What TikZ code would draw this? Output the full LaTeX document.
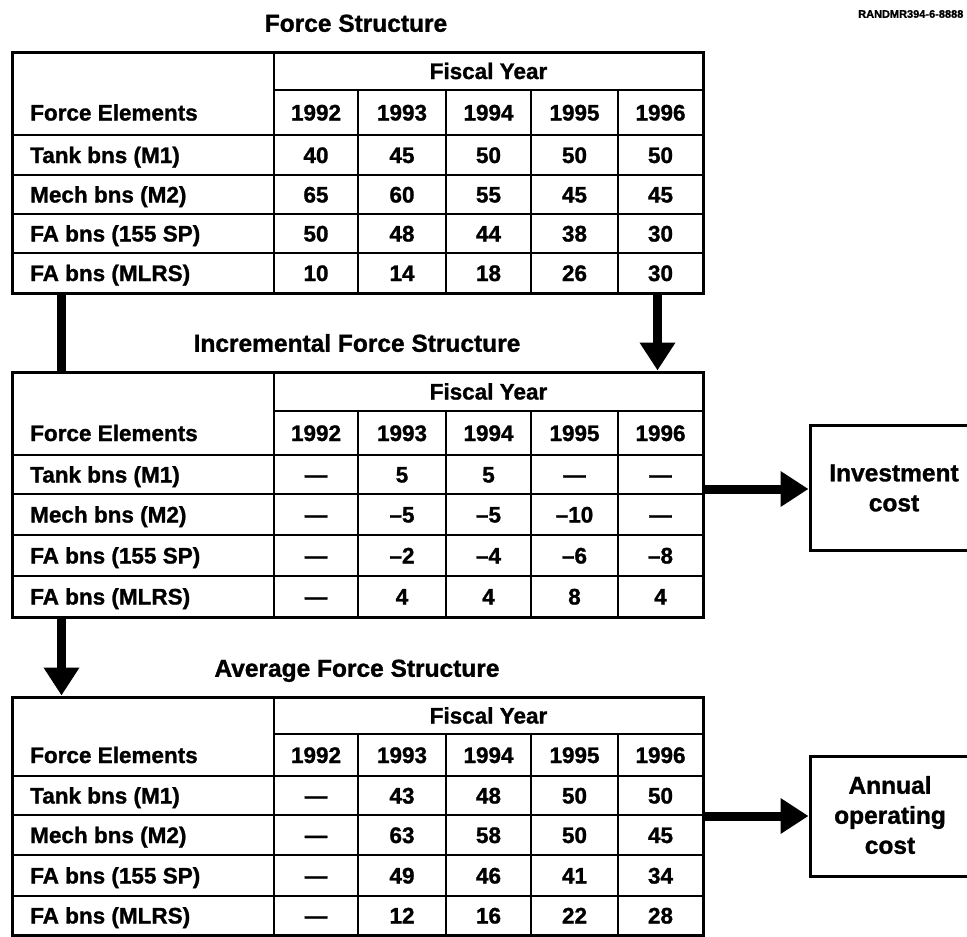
\documentclass[tikz,border=0pt]{standalone}
\usepackage{fontspec}
\setmainfont{Liberation Sans}[BoldFeatures={FakeBold=1.2}]
\usetikzlibrary{arrows.meta}

% one data row: name prefix, centre y, label, five yearly values
\newcommand\datarow[8]{%
  \node[rowlabel] (#1-name) at (30,#2) {#3};
  \node[cell] (#1-a) at (316,#2) {#4};
  \node[cell] (#1-b) at (402,#2) {#5};
  \node[cell] (#1-c) at (488.5,#2) {#6};
  \node[cell] (#1-d) at (574.5,#2) {#7};
  \node[cell] (#1-e) at (660.5,#2) {#8};
}

% grid of one table: name, then the y of its seven horizontal rules
\newcommand\forcetable[8]{%
  \node[frame, minimum width=691pt, minimum height=#8pt-#2pt] (#1) at (357.5,{(#2+#8)/2}) {};
  \draw[grid] (274,#3) -- (703,#3);
  \foreach \yy in {#4,#5,#6,#7} \draw[grid] (12,\yy) -- (703,\yy);
  \draw[grid] (274,#2) -- (274,#8);
  \foreach \xx in {358,446,531,618} \draw[grid] (\xx,#3) -- (\xx,#8);
  \node[cell] (#1-fy) at (488.5,{(#2+#3)/2}) {Fiscal Year};
  \node[rowlabel] (#1-fe) at (30,{(#3+#4)/2}) {Force Elements};
  \node[cell] (#1-y2) at (316,{(#3+#4)/2}) {1992};
  \node[cell] (#1-y3) at (402,{(#3+#4)/2}) {1993};
  \node[cell] (#1-y4) at (488.5,{(#3+#4)/2}) {1994};
  \node[cell] (#1-y5) at (574.5,{(#3+#4)/2}) {1995};
  \node[cell] (#1-y6) at (660.5,{(#3+#4)/2}) {1996};
}

\begin{document}
\begin{tikzpicture}[x=1pt,y=-1pt,
  cell/.style={font=\fontsize{22.5}{26}\selectfont\bfseries, inner sep=0pt,
    text height=16pt, text depth=0pt, anchor=center},
  rowlabel/.style={cell, anchor=west},
  title/.style={font=\fontsize{24.5}{28}\selectfont\bfseries, inner sep=0pt,
    text height=17.5pt, text depth=0pt},
  boxtext/.style={font=\fontsize{24.5}{30}\selectfont\bfseries, align=center},
  frame/.style={draw, line width=3pt, inner sep=0pt},
  grid/.style={line width=2.2pt},
  costbox/.style={draw, line width=3pt, inner sep=0pt},
  flow/.style={line width=9pt},
  flowhead/.style={flow, -{Triangle[length=28pt,width=34pt]}},
]
\useasboundingbox (0,0) rectangle (967,937);

% drawing number
\node[font=\fontsize{11}{13}\selectfont\bfseries, anchor=west, inner sep=0pt] (tag) at (858,14) {RANDMR394-6-8888};

% ---- Force Structure ----
\node[title] (title1) at (356,23) {Force Structure};
\forcetable{tab1}{52}{90}{135}{175}{214}{253}{293}
\datarow{t1r1}{155}{Tank bns (M1)}{40}{45}{50}{50}{50}
\datarow{t1r2}{194.5}{Mech bns (M2)}{65}{60}{55}{45}{45}
\datarow{t1r3}{233.5}{FA bns (155 SP)}{50}{48}{44}{38}{30}
\datarow{t1r4}{273}{FA bns (MLRS)}{10}{14}{18}{26}{30}

% ---- Incremental Force Structure ----
\node[title] (title2) at (357,343) {Incremental Force Structure};
\forcetable{tab2}{372}{411}{455}{494}{535}{576}{617}
\datarow{t2r1}{474.5}{Tank bns (M1)}{—}{5}{5}{—}{—}
\datarow{t2r2}{514.5}{Mech bns (M2)}{—}{–5}{–5}{–10}{—}
\datarow{t2r3}{555.5}{FA bns (155 SP)}{—}{–2}{–4}{–6}{–8}
\datarow{t2r4}{596.5}{FA bns (MLRS)}{—}{4}{4}{8}{4}

% ---- Average Force Structure ----
\node[title] (title3) at (357,668) {Average Force Structure};
\forcetable{tab3}{697}{734}{776}{815}{855}{896}{935}
\datarow{t3r1}{795.5}{Tank bns (M1)}{—}{43}{48}{50}{50}
\datarow{t3r2}{835}{Mech bns (M2)}{—}{63}{58}{50}{45}
\datarow{t3r3}{875.5}{FA bns (155 SP)}{—}{49}{46}{41}{34}
\datarow{t3r4}{915.5}{FA bns (MLRS)}{—}{12}{16}{22}{28}

% ---- cost boxes ----
\node[costbox, minimum width=170pt, minimum height=125pt] (inv) at (895,487.5) {};
\node[boxtext] (invtext) at (894,488) {Investment\\cost};
\node[costbox, minimum width=170pt, minimum height=120pt] (ops) at (895,816) {};
\node[boxtext] (opstext) at (890,815) {Annual\\operating\\cost};

% ---- connectors ----
\coordinate (invy) at (703,489);
\coordinate (opsy) at (703,816);
\draw[flow] ([xshift=51pt]tab1.south west) -- ([xshift=51pt]tab2.north west);
\draw[flowhead] ([xshift=-47pt]tab1.south east) -- ([xshift=-47pt]tab2.north east);
\draw[flowhead] ([xshift=51pt]tab2.south west) -- ([xshift=51pt]tab3.north west);
\draw[flowhead] (invy) -- (invy -| inv.west);
\draw[flowhead] (opsy) -- (opsy -| ops.west);
\end{tikzpicture}
\end{document}
